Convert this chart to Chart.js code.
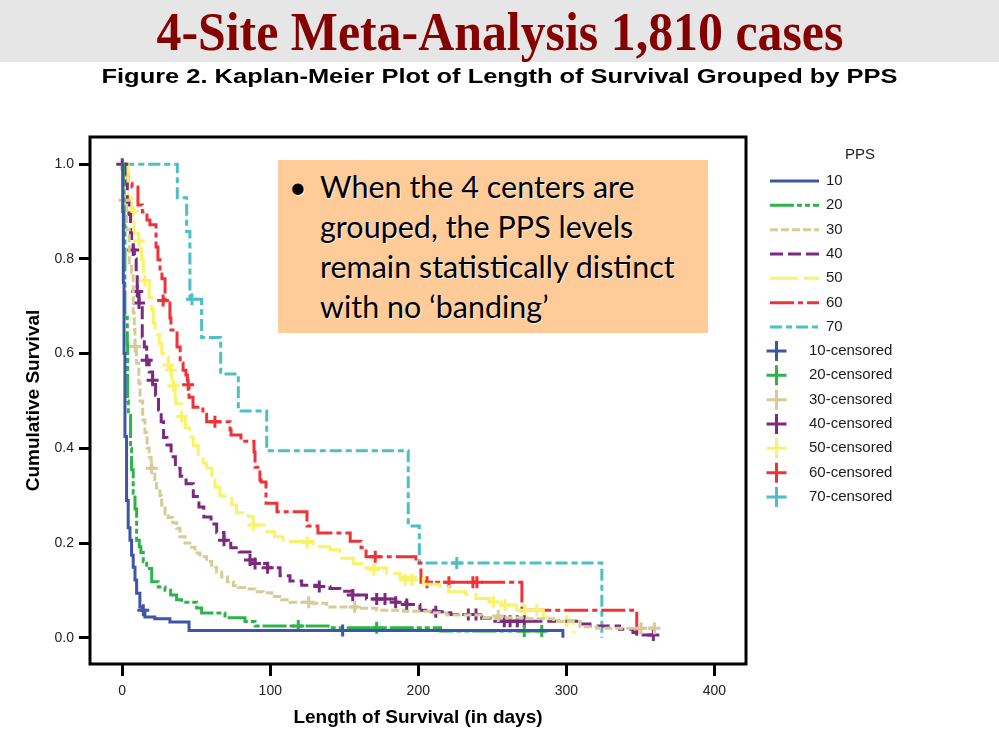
<!DOCTYPE html>
<html>
<head>
<meta charset="utf-8">
<script src="https://cdn.jsdelivr.net/npm/chart.js@4.4.0/dist/chart.umd.min.js"></script>
<style>
  html, body { margin: 0; padding: 0; background: #fff; }
  body { width: 999px; height: 740px; position: relative; overflow: hidden; }
  #chart { position: absolute; left: 0; top: 0; }
  #banner { position: absolute; left: 0; top: 0; width: 999px; height: 62px; background: #e6e6e6; }
  .head { position: absolute; left: 0; width: 999px; text-align: center; white-space: nowrap; }
  .head span { display: inline-block; transform-origin: center; }
  #title { top: 5px; font: bold 54px/54px "Liberation Serif", "Times New Roman", serif; color: #850000; }
  #subtitle { top: 65px; font: bold 21px/21px "Liberation Sans", Arial, sans-serif; color: #000; }
  #note { position: absolute; left: 278px; top: 160px; width: 430px; height: 173px; background: #ffcc99;
          font: 30.5px/40px Lato, "Open Sans", sans-serif; color: #000; text-shadow: 1px 1px 0 rgba(255,255,255,0.7); }
  #note .dot { position: absolute; left: 11px; top: 6px; }
  #note .txt { position: absolute; left: 42px; top: 6px; white-space: nowrap; }
</style>
</head>
<body>
<canvas id="chart" width="999" height="740"></canvas>
<div id="banner"></div>
<div class="head" id="title"><span>4-Site Meta-Analysis 1,810 cases</span></div>
<div class="head" id="subtitle"><span>Figure 2. Kaplan-Meier Plot of Length of Survival Grouped by PPS</span></div>
<div id="note"><div class="dot">•</div><div class="txt">When the 4 centers are<br>grouped, the PPS levels<br>remain statistically distinct<br>with no ‘banding’</div></div>
<script>
// PPS groups and styles
const groups = ["10", "20", "30", "40", "50", "60", "70"];
const colors = ["#3d56a6", "#2db34a", "#d5cc98", "#7b2a7f", "#f8f36b", "#ee3338", "#4cc0c4"];
const dashes = [[], [24, 3, 5, 3, 5, 3], [8, 3], [13, 5], [28, 6], [24, 4, 5, 4], [12, 4, 6, 4]];

// survival steps: time (days) and cumulative survival after each drop
const t10 = [0, 0.3, 0.7, 1.2, 1.8, 2.9, 4.0, 5.2, 6.3, 7.4, 8.6, 9.7, 11.9, 13.5, 15.3, 22, 32.2, 45.1, 297.7];
const s10 = [1.0, 0.90, 0.75, 0.60, 0.425, 0.29, 0.232, 0.206, 0.174, 0.149, 0.122, 0.094, 0.065, 0.058, 0.044, 0.040, 0.033, 0.015, 0.0];
const c10t = [14.2, 148.9];
const c10s = [0.058, 0.015];

const t20 = [0, 0.8, 1.2, 1.8, 3.4, 3.6, 4.1, 5.6, 6.3, 7.4, 8.6, 9.7, 11.5, 12.6, 14.2, 16.5, 19.9, 24.3, 28.9, 32.7, 36.7, 40.1, 50.3, 53.6, 69.4, 82.9, 89.7, 140.3, 215, 286.8];
const s20 = [1.0, 0.96, 0.87, 0.677, 0.622, 0.5, 0.47, 0.40, 0.355, 0.305, 0.272, 0.206, 0.192, 0.18, 0.161, 0.146, 0.118, 0.107, 0.10, 0.09, 0.08, 0.075, 0.063, 0.052, 0.042, 0.034, 0.025, 0.021, 0.014, 0.014];
const c20t = [118.9, 171.9, 271.6, 283.4];
const c20s = [0.025, 0.021, 0.014, 0.014];

const t30 = [0, 0.5, 1.0, 2.9, 4.7, 6.3, 7.4, 8.1, 8.6, 9.6, 11.2, 12.0, 13.8, 15.3, 16.8, 18.2, 19.5, 22, 23.1, 25.5, 26.6, 28.9, 31, 34.1, 36.7, 39, 42.4, 45.7, 49.1, 52.5, 57, 60.4, 63.8, 67.2, 71, 75, 78.4, 84, 89.7, 95.3, 101, 107.7, 113.3, 126.9, 138.1, 158.3, 171.9, 189.9, 207.9, 219.3, 243.9, 273.3, 291.3, 309.3, 320.5, 363.3];
const s30 = [1.0, 0.96, 0.924, 0.862, 0.792, 0.771, 0.686, 0.651, 0.615, 0.58, 0.538, 0.50, 0.46, 0.433, 0.40, 0.381, 0.358, 0.334, 0.316, 0.30, 0.28, 0.262, 0.254, 0.243, 0.231, 0.213, 0.20, 0.191, 0.179, 0.171, 0.161, 0.149, 0.139, 0.128, 0.118, 0.11, 0.106, 0.103, 0.097, 0.095, 0.087, 0.08, 0.075, 0.073, 0.065, 0.062, 0.058, 0.056, 0.053, 0.048, 0.042, 0.04, 0.034, 0.023, 0.02, 0.02];
const c30t = [1.5, 8.6, 19.9, 126, 157, 254, 350.5, 359.5];
const c30s = [0.924, 0.615, 0.358, 0.075, 0.065, 0.046, 0.02, 0.02];

const t40 = [0, 1.8, 3.4, 4.5, 5.6, 6.3, 7.4, 8.2, 9.4, 10.1, 11.3, 13.5, 14.9, 16.5, 18.2, 20.5, 22.5, 24.5, 26.3, 27.9, 30.2, 33, 35.9, 39.1, 43.1, 48, 51.8, 55.1, 60, 63.8, 68.7, 73.3, 79, 86.3, 89.7, 98.2, 106.6, 113.3, 121.2, 133.1, 140.3, 147, 155.7, 165, 184.7, 192.2, 201.1, 211.8, 219.3, 222, 242.8, 248.5, 309.3, 316, 336, 345, 347.5, 358.8];
const s40 = [1.0, 0.958, 0.92, 0.894, 0.855, 0.84, 0.819, 0.80, 0.77, 0.731, 0.707, 0.635, 0.614, 0.586, 0.561, 0.544, 0.512, 0.481, 0.456, 0.423, 0.407, 0.382, 0.358, 0.341, 0.325, 0.298, 0.276, 0.255, 0.24, 0.222, 0.206, 0.19, 0.181, 0.164, 0.157, 0.148, 0.131, 0.12, 0.111, 0.108, 0.104, 0.098, 0.09, 0.082, 0.075, 0.07, 0.058, 0.055, 0.053, 0.049, 0.041, 0.035, 0.029, 0.025, 0.018, 0.011, 0.006, 0.006];
const c40t = [0, 7.4, 10.1, 11.3, 16.5, 20.5, 68.7, 86.3, 89.7, 98.2, 133.1, 155.7, 171.9, 177.5, 184.7, 192.2, 211.8, 233.8, 239, 258.1, 262, 266.9, 271.6, 358.8];
const c40s = [1.0, 0.819, 0.731, 0.707, 0.586, 0.544, 0.206, 0.164, 0.157, 0.148, 0.108, 0.09, 0.082, 0.082, 0.075, 0.07, 0.055, 0.049, 0.049, 0.035, 0.035, 0.035, 0.035, 0.006];

const t50 = [0, 3.9, 6, 8, 11, 13, 14.2, 18.2, 19.8, 21, 22.2, 25.1, 26.7, 27.8, 31.1, 32.9, 33.4, 35.8, 36.3, 40.1, 42.5, 45.3, 48, 51.3, 54.7, 57, 60.4, 62.7, 66, 69.4, 74, 77.3, 85.1, 88.5, 97.6, 103, 108.6, 129, 140.3, 147, 156, 162.8, 178.6, 187.6, 203.4, 214.7, 220.3, 232, 239, 248, 256, 266.4, 284.5, 290, 305];
const s50 = [1.0, 0.931, 0.901, 0.854, 0.838, 0.798, 0.754, 0.719, 0.693, 0.664, 0.64, 0.621, 0.60, 0.593, 0.576, 0.565, 0.538, 0.502, 0.494, 0.467, 0.443, 0.424, 0.406, 0.382, 0.369, 0.358, 0.333, 0.318, 0.30, 0.294, 0.281, 0.264, 0.256, 0.238, 0.224, 0.213, 0.203, 0.192, 0.186, 0.168, 0.157, 0.147, 0.136, 0.127, 0.113, 0.108, 0.097, 0.092, 0.083, 0.076, 0.069, 0.058, 0.044, 0.035, 0.01];
const c50t = [7, 11.3, 15.3, 31.1, 32.9, 34.5, 40.1, 88.5, 125, 170, 191, 195.5, 250.7, 258.6, 272.1, 280, 300.3];
const c50s = [0.901, 0.838, 0.754, 0.576, 0.565, 0.532, 0.467, 0.238, 0.201, 0.144, 0.122, 0.122, 0.076, 0.069, 0.058, 0.058, 0.035];

const t60 = [0, 1.8, 3.9, 6.6, 10.6, 13.6, 16.7, 18.7, 22.8, 24.1, 25.5, 26.8, 28.9, 32.2, 32.9, 37, 39.1, 41.1, 43, 44, 45.1, 47.8, 54.5, 57, 72.8, 73.5, 80.2, 89, 89.7, 93, 93.8, 97.1, 104.5, 124.8, 132.2, 154, 161.3, 164.7, 198.4, 201.8, 270, 347.6];
const s60 = [1.0, 0.977, 0.96, 0.952, 0.914, 0.899, 0.882, 0.872, 0.825, 0.798, 0.772, 0.758, 0.707, 0.675, 0.65, 0.614, 0.58, 0.565, 0.555, 0.534, 0.508, 0.487, 0.472, 0.456, 0.439, 0.428, 0.415, 0.392, 0.36, 0.333, 0.329, 0.284, 0.266, 0.236, 0.221, 0.204, 0.19, 0.171, 0.158, 0.117, 0.058, 0.0];
const c60t = [27.6, 44.5, 62.6, 170.9, 205.9, 220.7, 236.9, 239.6];
const c60s = [0.712, 0.534, 0.456, 0.171, 0.117, 0.117, 0.117, 0.117];

const t70 = [0, 37.2, 43.5, 45.7, 53.6, 66.5, 78.4, 97.6, 193.2, 200.7, 324];
const s70 = [1.0, 0.929, 0.858, 0.715, 0.634, 0.557, 0.479, 0.395, 0.236, 0.158, 0.0];
const c70t = [47.1, 226];
const c70s = [0.715, 0.158];

// axis ticks
const xTicks = [0, 100, 200, 300, 400];
const yTicks = [0, 0.2, 0.4, 0.6, 0.8, 1.0];

const curves = [[t10, s10], [t20, s20], [t30, s30], [t40, s40], [t50, s50], [t60, s60], [t70, s70]];
const censored = [[c10t, c10s], [c20t, c20s], [c30t, c30s], [c40t, c40s], [c50t, c50s], [c60t, c60s], [c70t, c70s]];

function toPoints(t, s) {
  return t.map((x, i) => ({ x: x, y: s[i] }));
}

const datasets = [];
curves.forEach(([t, s], i) => {
  datasets.push({
    label: groups[i],
    data: toPoints(t, s),
    stepped: true,
    borderColor: colors[i],
    borderWidth: 3,
    borderDash: dashes[i],
    pointRadius: 0,
    fill: false,
    order: 10 + i
  });
});
censored.forEach(([t, s], i) => {
  datasets.push({
    label: groups[i] + "-censored",
    data: toPoints(t, s),
    showLine: false,
    pointStyle: "cross",
    pointRadius: 6,
    pointBorderWidth: 3,
    borderColor: colors[i],
    backgroundColor: colors[i],
    order: 10 + i
  });
});

// black frame round the plot area
const frame = {
  id: "frame",
  afterDatasetsDraw(chart) {
    const { ctx, chartArea: a } = chart;
    ctx.save();
    ctx.strokeStyle = "#000";
    ctx.lineWidth = 3;
    ctx.strokeRect(a.left, a.top, a.right - a.left, a.bottom - a.top);
    ctx.restore();
  }
};

// legend at the right, same look as the SPSS output
const sideLegend = {
  id: "sideLegend",
  afterDraw(chart) {
    const ctx = chart.ctx;
    const step = 24.33;
    ctx.save();
    ctx.font = '15px "Liberation Sans", Arial, sans-serif';
    ctx.fillStyle = "#1c1c1c";
    ctx.textBaseline = "middle";
    ctx.textAlign = "center";
    ctx.fillText("PPS", 860, 155);
    ctx.textAlign = "left";
    groups.forEach((g, i) => {
      const y = 181 + i * step;
      ctx.strokeStyle = colors[i];
      ctx.lineWidth = 3;
      ctx.setLineDash(dashes[i]);
      ctx.beginPath();
      ctx.moveTo(770, y);
      ctx.lineTo(819, y);
      ctx.stroke();
      ctx.setLineDash([]);
      ctx.fillText(g, 826, y);
    });
    groups.forEach((g, i) => {
      const y = 351 + i * step;
      ctx.strokeStyle = colors[i];
      ctx.lineWidth = 3;
      ctx.beginPath();
      ctx.moveTo(766.5, y);
      ctx.lineTo(786.5, y);
      ctx.moveTo(776.5, y - 10);
      ctx.lineTo(776.5, y + 10);
      ctx.stroke();
      ctx.fillText(g + "-censored", 809, y);
    });
    ctx.restore();
  }
};

const tickFont = { family: '"Liberation Sans", Arial, sans-serif', size: 14 };
const titleFont = { family: '"Liberation Sans", Arial, sans-serif', size: 19, weight: "bold" };

new Chart(document.getElementById("chart"), {
  type: "line",
  data: { datasets: datasets },
  options: {
    responsive: false,
    animation: false,
    layout: { padding: { left: 20, top: 137, right: 253, bottom: 0 } },
    plugins: { legend: { display: false }, tooltip: { enabled: false } },
    scales: {
      x: {
        type: "linear",
        min: -21.8,
        max: 421.4,
        afterFit(scale) { scale.height = 76; },
        afterBuildTicks(scale) { scale.ticks = xTicks.map(v => ({ value: v })); },
        ticks: { color: "#222", font: tickFont, padding: 7 },
        grid: { drawOnChartArea: false, drawTicks: true, tickLength: 12, tickWidth: 3, tickColor: "#000" },
        border: { display: false },
        title: { display: true, text: "Length of Survival (in days)", color: "#000", font: titleFont, padding: { top: 0, bottom: 11 } }
      },
      y: {
        type: "linear",
        min: -0.0555,
        max: 1.0575,
        afterFit(scale) { scale.width = 70; },
        afterBuildTicks(scale) { scale.ticks = yTicks.map(v => ({ value: v })); },
        ticks: { color: "#222", font: tickFont, padding: 5, callback: v => Number(v).toFixed(1) },
        grid: { drawOnChartArea: false, drawTicks: true, tickLength: 11, tickWidth: 3, tickColor: "#000" },
        border: { display: false },
        title: { display: true, text: "Cumulative Survival", color: "#000", font: titleFont, padding: { top: 2, bottom: 0 } }
      }
    }
  },
  plugins: [frame, sideLegend]
});

// squeeze the two headings to the width they have in the slide
function fitWidth(id, w) {
  const s = document.querySelector("#" + id + " span");
  s.style.transform = "scaleX(" + (w / s.offsetWidth) + ")";
}
fitWidth("title", 687);
fitWidth("subtitle", 796);
</script>
</body>
</html>
